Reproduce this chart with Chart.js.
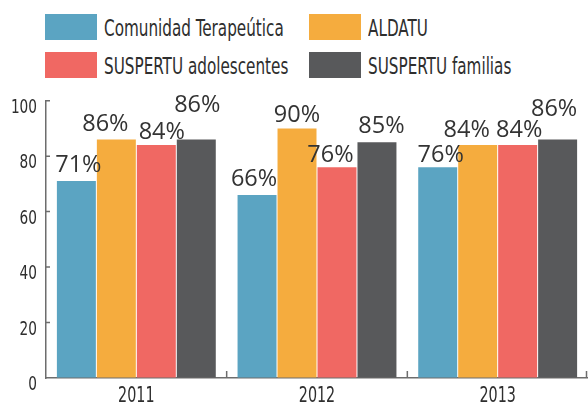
<!DOCTYPE html>
<html>
<head>
<meta charset="utf-8">
<script src="https://cdn.jsdelivr.net/npm/chart.js@4"></script>
<style>
html, body { margin: 0; padding: 0; background: #fff; }
#wrap { position: relative; width: 588px; height: 405px; overflow: hidden; }
#legend { position: absolute; left: 0; top: 0; width: 588px; height: 80px; }
.item { position: absolute; height: 26px; }
.box { position: absolute; left: 0; top: 0; width: 52px; height: 26px; }
.txt {
    position: absolute; left: 59px; top: 0; line-height: 26px;
    font: 23.5px "DejaVu Sans Condensed", sans-serif;
    color: #2e2e2e; white-space: nowrap;
    transform: scaleX(0.72); transform-origin: left center;
}
#chartBox { position: absolute; left: 0; top: 80px; width: 588px; height: 325px; }
</style>
</head>
<body>
<div id="wrap">
    <div id="legend"></div>
    <div id="chartBox"><canvas id="barChart"></canvas></div>
</div>
<script>
// data
const years = ['2011', '2012', '2013'];
const seriesNames = ['Comunidad Terapeútica', 'ALDATU', 'SUSPERTU adolescentes', 'SUSPERTU familias'];
const comunidad = [71, 66, 76];
const aldatu = [86, 90, 84];
const adolescentes = [84, 76, 84];
const familias = [86, 85, 86];
const yTicks = [0, 20, 40, 60, 80, 100];

const colors = ['#5ba4c2', '#f5ac3e', '#f06863', '#58595b'];
// label nudges [dx, lift above bar top] per series / year
const labelShift = [
    [[2, 9.6], [-3, 8.5], [3, 5.7]],
    [[-11, 8.9], [0, 6.8], [-11, 8.5]],
    [[5.5, 5.9], [-6.5, 5.7], [1.5, 8.5]],
    [[1, 27.9], [4.5, 9.1], [-3.5, 23.9]]
];
const legendSpots = [[45, 13.5], [309, 13.5], [45, 51.7], [309, 51.7]];
const axisFont = '"DejaVu Sans Condensed", sans-serif';

const allSeries = [comunidad, aldatu, adolescentes, familias];

// legend
const legendEl = document.getElementById('legend');
seriesNames.forEach((name, i) => {
    const item = document.createElement('div');
    item.className = 'item';
    item.style.left = legendSpots[i][0] + 'px';
    item.style.top = legendSpots[i][1] + 'px';
    item.innerHTML = `<div class="box" style="background:${colors[i]}"></div><div class="txt">${name}</div>`;
    legendEl.appendChild(item);
});

const innerTicks = {
    id: 'innerTicks',
    afterDraw(chart) {
        const {ctx, chartArea, scales: {x, y}} = chart;
        ctx.save();
        ctx.strokeStyle = '#6d6d6d';
        ctx.lineWidth = 1.5;
        ctx.beginPath();
        y.ticks.forEach(t => {
            if (t.value <= 0) return;
            const py = y.getPixelForValue(t.value);
            ctx.moveTo(chartArea.left, py);
            ctx.lineTo(chartArea.left + 4, py);
        });
        for (let i = 1; i <= years.length; i++) {
            const px = Math.min(x.getPixelForValue(i - 0.5), chart.width - 1.5);
            ctx.moveTo(px, chartArea.bottom);
            ctx.lineTo(px, chartArea.bottom - 7);
        }
        ctx.stroke();

        // condensed tick labels
        ctx.fillStyle = '#2e2e2e';
        ctx.textBaseline = 'alphabetic';
        ctx.font = '20px ' + axisFont;
        ctx.textAlign = 'right';
        y.ticks.forEach(t => {
            ctx.save();
            ctx.translate(chartArea.left - 9, y.getPixelForValue(t.value) + 12.2);
            ctx.scale(0.76, 1);
            ctx.fillText(t.label, 0, 0);
            ctx.restore();
        });
        ctx.font = '21.5px ' + axisFont;
        ctx.textAlign = 'center';
        x.ticks.forEach((t, i) => {
            ctx.save();
            ctx.translate(x.getPixelForTick(i), chartArea.bottom + 24);
            ctx.scale(0.74, 1);
            ctx.fillText(x.getLabelForValue(t.value), 0, 0);
            ctx.restore();
        });
        ctx.restore();
    }
};

const valueLabels = {
    id: 'valueLabels',
    afterDatasetsDraw(chart) {
        const ctx = chart.ctx;
        ctx.save();
        ctx.font = '23.5px "Open Sans"';
        ctx.fillStyle = '#333';
        ctx.textAlign = 'center';
        ctx.textBaseline = 'alphabetic';
        chart.data.datasets.forEach((ds, i) => {
            chart.getDatasetMeta(i).data.forEach((bar, j) => {
                const [dx, dy] = labelShift[i][j];
                ctx.fillText(ds.data[j] + '%', bar.x + dx, bar.y - dy);
            });
        });
        ctx.restore();
    }
};

const ctx = document.getElementById('barChart').getContext('2d');
new Chart(ctx, {
    type: 'bar',
    data: {
        labels: years,
        datasets: allSeries.map((values, i) => ({
            label: seriesNames[i],
            data: values,
            backgroundColor: colors[i],
            borderWidth: 0,
            categoryPercentage: 0.885,
            barPercentage: 0.975
        }))
    },
    options: {
        responsive: true,
        maintainAspectRatio: false,
        animation: false,
        layout: { padding: { top: 20.7, right: 0, bottom: 27, left: 0 } },
        plugins: {
            legend: { display: false },
            tooltip: { enabled: false }
        },
        scales: {
            x: {
                grid: { drawOnChartArea: false, drawTicks: false, offset: true },
                border: { display: true, color: '#6d6d6d', width: 1.5 },
                ticks: { display: false }
            },
            y: {
                min: 0,
                max: 100,
                afterFit: scale => { scale.width = 46; },
                afterBuildTicks: scale => { scale.ticks = yTicks.map(v => ({value: v})); },
                grid: { drawOnChartArea: false, drawTicks: false },
                border: { display: true, color: '#6d6d6d', width: 1.5 },
                ticks: { display: false }
            }
        }
    },
    plugins: [innerTicks, valueLabels]
});
</script>
</body>
</html>
